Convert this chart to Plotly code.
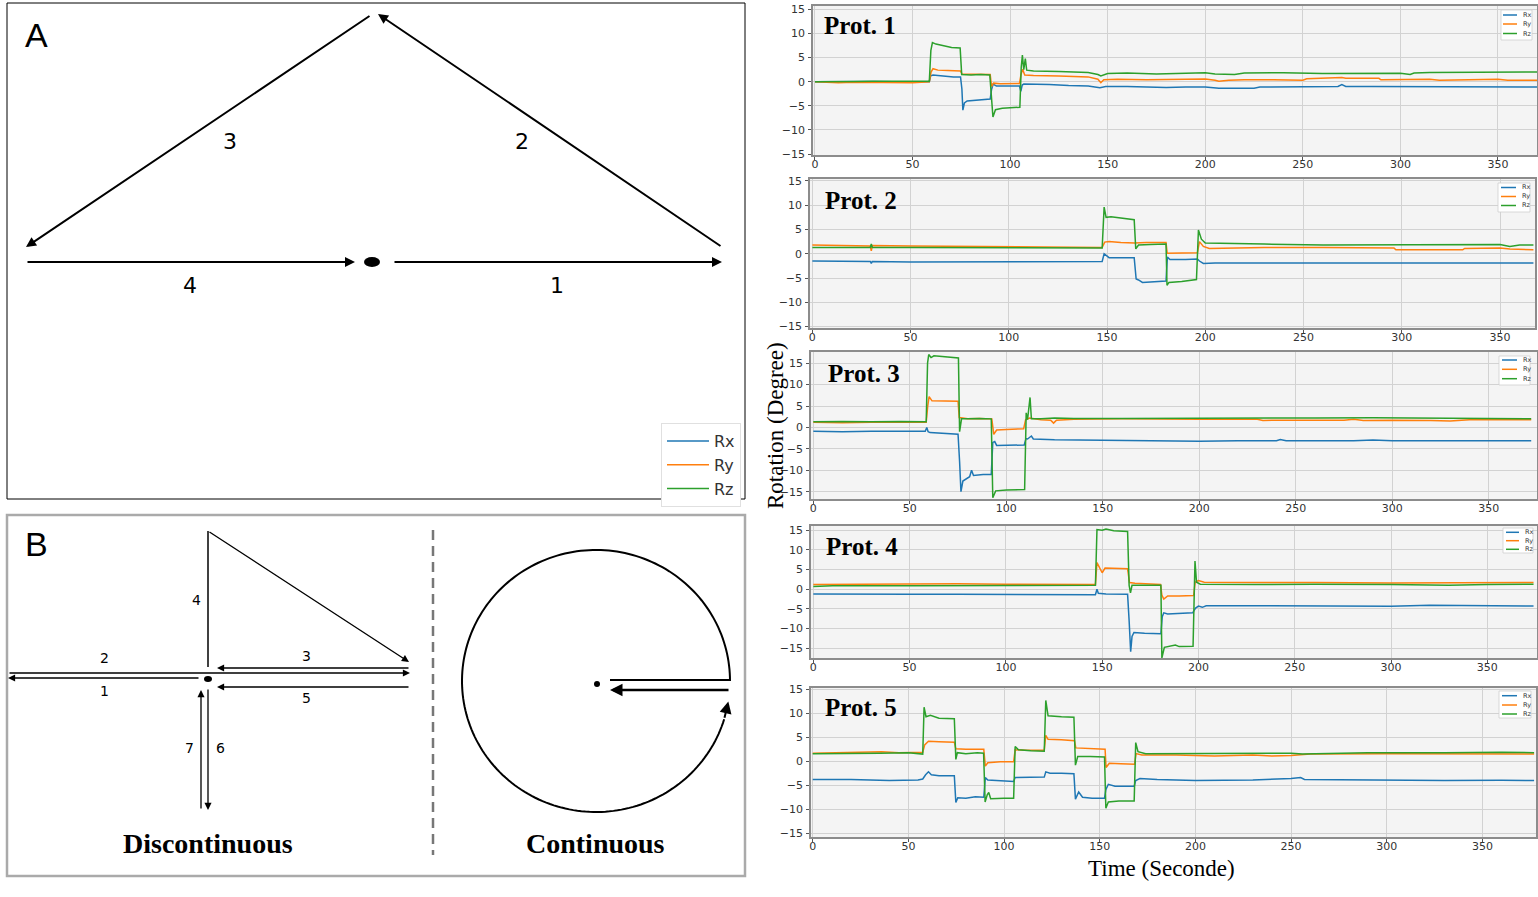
import numpy as np
import plotly.graph_objects as go

# ---------------- data ----------------
SERIES = ["Rx", "Ry", "Rz"]
COLORS = ["#1f77b4", "#ff7f0e", "#2ca02c"]
PROT_LABELS = ["Prot. 1", "Prot. 2", "Prot. 3", "Prot. 4", "Prot. 5"]
X_TICKS = [0, 50, 100, 150, 200, 250, 300, 350]
Y_TICKS = [-15, -10, -5, 0, 5, 10, 15]

# (time [s], rotation [deg]) pairs
P1_RX = [(0, 0), (10, 0.05), (20, -0.05), (30, 0.05), (40, 0), (50, 0), (58.6, 0), (59.3, 1.2), (60.5, 1.4),
         (63, 1.3), (67, 1.1), (71, 1.0), (74.6, 1.0), (75.3, -1.5), (75.8, -5.9), (76.6, -4.4), (78, -4.0),
         (82, -3.9), (86, -3.7), (89.8, -3.6), (90.5, -1.6), (91.3, -0.5), (93, -0.9), (98, -0.9), (104.8, -0.9),
         (105.5, -2.0), (106.2, -0.7), (107, -0.5), (112, -0.5), (120, -0.6), (130, -0.8), (140, -0.9),
         (146, -1.25), (149, -1.0), (160, -1.0), (170, -1.1), (180, -1.2), (190, -1.1), (200, -1.1),
         (207, -1.35), (215, -1.3), (225, -1.35), (228, -1.1), (235, -1.1), (250, -1.15), (260, -1.0),
         (268, -1.0), (270, -0.6), (272, -1.0), (285, -1.0), (300, -1.0), (310, -0.95), (320, -1.05),
         (340, -1.05), (360, -1.0), (370, -1.1)]
P1_RY = [(0, 0), (8, -0.1), (12, -0.2), (20, -0.1), (30, -0.15), (40, -0.1), (50, -0.2), (58.6, 0), (59.5, 2.0),
         (60.5, 2.7), (63, 2.4), (68, 2.3), (74.6, 2.2), (75.4, 1.6), (80, 1.6), (85, 1.5), (89.8, 1.5),
         (90.5, -1.0), (91.5, -0.3), (95, -0.4), (100, -0.4), (104.8, -0.35), (105.6, 1.5), (106.4, 2.6),
         (107.5, 1.4), (112, 1.3), (125, 1.2), (140, 1.0), (145, 0.5), (146.5, -0.2), (148, 0.4), (155, 0.5),
         (170, 0.4), (185, 0.5), (200, 0.55), (205, 0.3), (207, 0.1), (212, 0.3), (220, 0.4), (235, 0.4),
         (250, 0.3), (252, 0.6), (268, 0.7), (270, 0.85), (272, 0.7), (289, 0.7), (290, 0.4), (315, 0.5),
         (320, 0.3), (345, 0.35), (350, 0.5), (355, 0.3), (370, 0.3)]
P1_RZ = [(0, 0), (10, 0.1), (20, 0.05), (30, 0.1), (40, 0.05), (50, 0.1), (58.6, 0.1), (59.4, 6.5), (60.2, 8.1),
         (62, 7.8), (66, 7.4), (70, 7.1), (74.4, 7.0), (75.2, 1.5), (80, 1.4), (85, 1.5), (89.6, 1.4),
         (90.4, -3.0), (91.2, -7.3), (92.5, -5.8), (96, -5.5), (100, -5.4), (105, -5.3), (105.7, 3.0),
         (106.3, 5.5), (107, 2.5), (107.8, 4.8), (108.5, 2.4), (112, 2.2), (125, 2.1), (140, 1.9), (145, 1.5),
         (146.5, 1.2), (150, 1.7), (160, 1.8), (175, 1.6), (185, 1.7), (195, 1.9), (200, 1.85), (205, 1.6),
         (215, 1.5), (220, 1.8), (240, 1.85), (260, 1.7), (280, 1.8), (300, 1.75), (305, 1.5), (307, 1.8),
         (315, 1.9), (330, 1.9), (345, 1.95), (350, 2.0), (370, 2.0)]

P2_RX = [(0, -1.5), (15, -1.6), (29.5, -1.6), (30, -2.0), (30.5, -1.6), (50, -1.7), (75, -1.7), (100, -1.75),
         (125, -1.7), (145, -1.7), (147.5, -1.6), (148.5, 0.0), (149.5, -0.4), (151, -0.8), (157, -0.8),
         (163.8, -0.8), (164.8, -5.2), (166, -5.4), (168, -5.9), (175, -5.8), (180, -5.6), (180.7, -0.7),
         (182, -1.2), (190, -1.2), (196, -1.1), (197, -1.5), (199, -2.0), (205, -1.9), (220, -1.9), (250, -1.9),
         (280, -1.95), (300, -1.9), (330, -1.95), (355, -1.9), (360, -1.8), (367, -1.9)]
P2_RY = [(0, 1.8), (15, 1.7), (29.5, 1.6), (30, 0.6), (30.5, 1.7), (50, 1.6), (75, 1.5), (100, 1.5), (125, 1.4),
         (147.5, 1.3), (148.8, 2.4), (151, 2.5), (157, 2.3), (164, 2.2), (170, 2.3), (180, 2.3), (180.6, 0.1),
         (185, 0.1), (196, 0.2), (197, 2.5), (199, 1.5), (202, 1.1), (210, 1.2), (230, 1.3), (260, 1.3),
         (296, 1.2), (297, 0.8), (320, 0.85), (331, 0.8), (332, 1.1), (350, 1.2), (355, 1.0), (362, 0.8),
         (367, 0.8)]
P2_RZ = [(0, 1.3), (15, 1.3), (29.5, 1.3), (30, 2.0), (30.5, 1.3), (50, 1.3), (100, 1.3), (147.5, 1.2),
         (148.5, 9.6), (149.5, 7.5), (152, 7.6), (158, 7.3), (163.8, 7.0), (164.6, 1.0), (166, 1.8), (172, 1.9),
         (180, 2.0), (180.5, -6.5), (181.5, -5.9), (188, -5.7), (195.5, -5.3), (196.5, 4.9), (198, 3.0),
         (200, 2.2), (210, 2.1), (230, 2.0), (260, 1.8), (300, 1.8), (330, 1.8), (350, 1.9), (355, 1.5),
         (360, 1.8), (367, 1.8)]

P3_RX = [(0, -0.9), (15, -1.0), (30, -0.9), (45, -0.95), (58, -0.9), (58.8, 0.0), (59.5, -1.0), (60.5, -1.2),
         (66, -1.4), (75, -1.6), (75.8, -8.0), (76.5, -15.0), (77.5, -12.5), (79, -12.0), (81, -11.5),
         (82, -10.0), (83, -11.2), (88, -11.0), (92.2, -11.0), (93, -3.5), (94, -3.3), (95, -4.2), (102, -4.2),
         (109.3, -4.1), (110.2, -2.6), (111, -2.7), (113, -2.0), (114, -2.7), (125, -2.9), (150, -3.0),
         (175, -3.2), (200, -3.2), (220, -3.1), (240, -3.1), (242, -2.8), (245, -3.1), (280, -3.1),
         (290, -2.95), (300, -3.1), (330, -3.1), (360, -3.1), (372, -3.1)]
P3_RY = [(0, 1.2), (15, 1.1), (30, 1.2), (58.5, 1.2), (59.3, 5.0), (60, 7.2), (61.5, 6.2), (68, 6.1), (75, 6.1),
         (75.6, 2.3), (80, 2.0), (86, 2.1), (92.5, 2.0), (93.5, -1.6), (95, -0.6), (100, -0.5), (109, -0.3),
         (110, 1.8), (112, 2.2), (118, 1.8), (123, 1.7), (124.5, 1.0), (126, 1.7), (135, 1.9), (160, 2.0),
         (200, 1.9), (230, 1.9), (233, 1.6), (240, 1.7), (275, 1.7), (280, 1.9), (285, 1.6), (300, 1.7),
         (320, 1.6), (330, 1.5), (340, 1.8), (372, 1.8)]
P3_RZ = [(0, 1.3), (15, 1.4), (30, 1.3), (45, 1.4), (58.5, 1.3), (59.2, 15.0), (59.8, 17.0), (61, 16.3),
         (62.5, 16.7), (68, 16.5), (75.2, 16.2), (75.8, -1.0), (76.8, 2.0), (80, 2.0), (86, 2.1), (92.2, 2.0),
         (93.0, -16.4), (94.5, -14.8), (100, -14.6), (109.5, -14.5), (110.3, 3.4), (111, 1.8), (112.3, 7.0),
         (113, 2.0), (118, 2.0), (125, 2.2), (135, 2.1), (160, 2.1), (200, 2.2), (230, 2.2), (240, 2.3),
         (260, 2.2), (290, 2.25), (320, 2.1), (340, 2.0), (372, 2.0)]

P4_RX = [(0, -1.2), (25, -1.3), (50, -1.3), (75, -1.3), (100, -1.4), (125, -1.35), (146.5, -1.4), (147.3, 0.0),
         (148, -1.0), (152, -1.2), (163.2, -1.3), (164, -8.0), (164.8, -15.9), (165.5, -12.0), (166.5, -11.0),
         (172, -11.2), (180.5, -11.3), (181.2, -7.0), (182, -6.0), (184, -6.3), (190, -6.1), (197, -6.0),
         (198.5, -4.8), (200, -4.3), (202, -4.6), (204, -4.2), (230, -4.2), (260, -4.2), (300, -4.3),
         (320, -4.1), (340, -4.2), (374, -4.25)]
P4_RY = [(0, 1.2), (25, 1.3), (50, 1.3), (75, 1.4), (100, 1.3), (125, 1.3), (146.5, 1.2), (147.3, 6.8),
         (148.3, 5.8), (150, 4.2), (151.5, 5.4), (157, 5.3), (163.2, 5.2), (164.2, 1.7), (167, 1.5),
         (180.3, 1.2), (181, -1.5), (182, -2.5), (184, -1.7), (190, -1.7), (197.5, -1.6), (198.3, 1.8),
         (200, 2.2), (203, 1.8), (230, 1.8), (260, 1.7), (300, 1.6), (330, 1.7), (350, 1.6), (374, 1.7)]
P4_RZ = [(0, 0.7), (10, 0.9), (50, 0.9), (100, 1.0), (146.5, 1.0), (147.3, 15.2), (150, 15.0), (152, 15.3),
         (156, 14.9), (163.2, 14.7), (164, 1.0), (164.7, -0.9), (165.5, 1.0), (172, 1.0), (180.5, 1.0),
         (181, -17.5), (182.3, -14.8), (188, -14.2), (190, -14.6), (197.2, -14.5), (198.2, 7.2), (199, 1.8),
         (201, 1.3), (230, 1.2), (260, 1.3), (300, 1.2), (330, 1.0), (350, 1.2), (374, 1.3)]

P5_RX = [(0, -3.8), (20, -3.8), (40, -4.0), (55, -3.9), (57.5, -3.7), (59, -2.8), (60.5, -2.2), (62, -2.8),
         (66, -3.0), (74, -3.0), (74.8, -8.6), (75.8, -7.6), (80, -7.7), (85, -7.4), (89.4, -7.5), (90.2, -3.4),
         (91.5, -3.9), (97, -4.0), (105, -4.2), (105.8, -3.4), (112, -3.4), (121, -3.3), (121.8, -2.2),
         (124, -2.5), (130, -2.5), (136.5, -2.6), (137.3, -7.9), (139, -6.4), (141, -7.5), (146, -7.7),
         (152.5, -7.7), (153.2, -5.9), (154.5, -4.8), (158, -5.2), (168, -5.2), (168.8, -4.0), (171, -3.6),
         (180, -3.8), (200, -4.0), (230, -3.9), (250, -3.6), (255, -3.4), (257, -3.8), (280, -3.9),
         (300, -3.9), (330, -4.0), (360, -3.95), (377, -4.0)]
P5_RY = [(0, 1.7), (20, 1.8), (30, 1.9), (36, 2.0), (45, 1.8), (57.5, 1.9), (58.5, 3.4), (60.5, 4.2), (66, 4.1),
         (74, 4.0), (74.8, 2.6), (80, 2.5), (89.4, 2.5), (90.2, -1.0), (91.5, -0.3), (98, -0.1), (105, -0.1),
         (105.8, 2.4), (112, 2.3), (121, 2.3), (121.8, 5.4), (123, 4.6), (130, 4.5), (136.8, 4.3),
         (137.5, 2.8), (145, 2.6), (152.8, 2.5), (153.3, -1.3), (155, -0.4), (161, -0.5), (168.2, -0.6),
         (169, 1.6), (172, 1.3), (190, 1.3), (210, 1.1), (230, 1.3), (240, 1.1), (250, 1.2), (260, 1.5),
         (300, 1.6), (340, 1.6), (377, 1.5)]
P5_RZ = [(0, 1.6), (20, 1.6), (35, 1.7), (50, 1.8), (57.5, 1.5), (58.2, 11.3), (59.2, 9.3), (61.5, 9.6),
         (66, 9.0), (74, 8.9), (74.8, 0.4), (75.6, 1.8), (80, 1.6), (86, 1.8), (89.3, 1.7), (90.1, -8.5),
         (91.2, -7.0), (92, -6.5), (93, -7.8), (100, -7.7), (105, -7.7), (105.8, 3.1), (107.5, 2.4),
         (114, 2.2), (121, 2.1), (121.8, 12.7), (123, 9.5), (130, 9.3), (136.5, 9.2), (137.3, -0.8),
         (138.5, 1.0), (145, 1.0), (152.5, 0.9), (153.2, -9.8), (154.5, -8.5), (160, -8.3), (168, -8.3),
         (168.8, 3.9), (170, 2.0), (174, 1.6), (200, 1.6), (240, 1.6), (250, 1.7), (256, 1.5), (265, 1.6),
         (290, 1.8), (330, 1.8), (360, 1.9), (377, 1.8)]

PROTOCOLS = [(P1_RX, P1_RY, P1_RZ), (P2_RX, P2_RY, P2_RZ), (P3_RX, P3_RY, P3_RZ),
             (P4_RX, P4_RY, P4_RZ), (P5_RX, P5_RY, P5_RZ)]

# ---------------- layout geometry (pixels) ----------------
W, H = 1538, 897


def px(x):
    return x / W


def py(y):
    return 1 - y / H


FRAMES = [(813, 1537, 6, 155), (810, 1535, 179, 328), (811, 1537, 352, 499),
          (811, 1537, 526, 658), (811, 1536, 688, 837)]
XRANGES = [(-1.0, 370), (-1.2, 367.8), (-1.2, 375), (-1.2, 375.8), (-0.9, 378)]
YRANGES = [(-15.2, 15.7), (-15.3, 15.4), (-16.7, 17.6), (-17.5, 16.1), (-15.8, 15.3)]
LABEL_POS = [(860, 25), (861, 201), (864, 373), (862, 546), (861, 707)]
MINI_LEG = [  # box x0,x1,y0,y1, entry ys, line x0,x1
    (1501, 1532, 10, 40, (15, 24, 33.5), 1503, 1517),
    (1498, 1530, 183, 212, (187.5, 196.5, 205.5), 1501, 1516),
    (1499, 1530, 356, 385, (360, 369.3, 378.7), 1502, 1517),
    (1503, 1533, 528, 553, (532.3, 540.7, 549.3), 1506, 1519),
    (1499, 1531, 691, 718, (695.7, 705, 714), 1502, 1517),
]

SERIF = "Liberation Serif"
SANS = "DejaVu Sans"

fig = go.Figure()
layout = dict(template="none", width=W, height=H, autosize=False,
              margin=dict(l=0, r=0, t=0, b=0, pad=0, autoexpand=False), paper_bgcolor="white",
              plot_bgcolor="#f4f4f4", showlegend=True, font=dict(family=SANS, color="#333"))

for i, (series, frame) in enumerate(zip(PROTOCOLS, FRAMES)):
    k = i + 1
    xa, ya = f"x{k}", f"y{k}"
    for name, color, pts in zip(SERIES, COLORS, series):
        t = [p[0] for p in pts]
        v = [p[1] for p in pts]
        fig.add_trace(go.Scatter(x=t, y=v, mode="lines", name=name, legendgroup=name,
                                 showlegend=(k == 1), line=dict(color=color, width=1.5),
                                 xaxis=xa, yaxis=ya, hoverinfo="x+y+name"))
    l, r, t0, b0 = frame
    axis_common = dict(showgrid=True, gridcolor="#d2d2d2", gridwidth=1, zeroline=False, showline=True,
                       mirror=True, linecolor="#8c8c8c", linewidth=1.5, ticks="outside", ticklen=3,
                       tickcolor="#555", automargin=False,
                       tickfont=dict(family=SANS, size=11, color="#333"))
    layout[f"xaxis{k}"] = dict(domain=[px(l), px(r)], range=list(XRANGES[i]), anchor=ya,
                               tickvals=X_TICKS, ticklabelstandoff=-5, **axis_common)
    layout[f"yaxis{k}"] = dict(domain=[py(b0), py(t0)], range=list(YRANGES[i]), anchor=xa,
                               tickvals=Y_TICKS, ticklabelstandoff=1, **axis_common)

layout["legend"] = dict(x=px(661), y=py(423), xanchor="left", yanchor="top", bgcolor="white",
                        bordercolor="#e0e0e0", borderwidth=1, font=dict(family=SANS, size=16, color="#333"),
                        itemwidth=42, tracegroupgap=0)
fig.update_layout(**layout)

shapes = []
annotations = []


def text(x, y, s, size, family=SANS, color="black", **kw):
    annotations.append(dict(x=px(x), y=py(y), xref="paper", yref="paper", text=s, showarrow=False,
                            font=dict(family=family, size=size, color=color), xanchor="center",
                            yanchor="middle", **kw))


def line(x0, y0, x1, y1, width=1.5, color="black", dash=None):
    d = dict(type="line", xref="paper", yref="paper", x0=px(x0), y0=py(y0), x1=px(x1), y1=py(y1),
             line=dict(color=color, width=width))
    if dash:
        d["line"]["dash"] = dash
    shapes.append(d)


def arrow(x0, y0, x1, y1, width=2, size=1.0, head=2):
    annotations.append(dict(x=px(x1), y=py(y1), xref="paper", yref="paper", ax=x0 - x1, ay=y0 - y1,
                            axref="pixel", ayref="pixel", text="", showarrow=True, arrowhead=head,
                            arrowsize=size, arrowwidth=width, arrowcolor="black", standoff=0,
                            startstandoff=0))


def dot(cx, cy, rx, ry):
    shapes.append(dict(type="circle", xref="paper", yref="paper", x0=px(cx - rx), x1=px(cx + rx),
                       y0=py(cy + ry), y1=py(cy - ry), fillcolor="black", line=dict(color="black", width=0)))


# subplot texts
for i, (lx, ly) in enumerate(LABEL_POS):
    text(lx, ly, f"<b>{PROT_LABELS[i]}</b>", 25, SERIF)

for (bx0, bx1, by0, by1, ys, lx0, lx1) in MINI_LEG:
    shapes.append(dict(type="rect", xref="paper", yref="paper", x0=px(bx0), x1=px(bx1), y0=py(by1),
                       y1=py(by0), fillcolor="white", line=dict(color="#cfcfcf", width=0.8)))
    for name, color, yy in zip(SERIES, COLORS, ys):
        line(lx0, yy, lx1, yy, width=1.5, color=color)
        annotations.append(dict(x=px(lx1 + 4), y=py(yy), xref="paper", yref="paper", text=name,
                                showarrow=False, font=dict(family=SANS, size=6.5, color="#333"),
                                xanchor="left", yanchor="middle"))

text(775, 426, "Rotation (Degree)", 23, SERIF, textangle=-90)
text(1161, 868, "Time (Seconde)", 23, SERIF)

# ---------------- Panel A ----------------
shapes.append(dict(type="rect", xref="paper", yref="paper", x0=px(7), x1=px(745), y0=py(499), y1=py(3),
                   line=dict(color="black", width=1), layer="below"))
text(36, 35, "A", 34, "Liberation Sans")
arrow(393, 262, 722, 262, width=2, size=1.0)
arrow(722, 247, 378, 14, width=2, size=1.0)
arrow(371, 15, 26, 247, width=2, size=1.0)
arrow(26, 262, 355, 262, width=2, size=1.0)
dot(372, 262, 8, 5)
text(557, 285, "1", 22)
text(522, 141, "2", 22)
text(230, 141, "3", 22)
text(190, 285, "4", 22)

# ---------------- Panel B ----------------
shapes.append(dict(type="rect", xref="paper", yref="paper", x0=px(7), x1=px(745), y0=py(876), y1=py(515),
                   line=dict(color="#aaaaaa", width=2.5), layer="below"))
text(36, 544, "B", 34, "Liberation Sans")
line(208, 531, 208, 667, width=1.5)
arrow(208, 531, 409, 662, width=1.3, size=1.1)
arrow(410, 668, 217, 668, width=1.3, size=1.1)
arrow(8, 673, 410, 673, width=1.3, size=1.1)
arrow(200, 678, 8, 678, width=1.3, size=1.1)
arrow(410, 687, 217, 687, width=1.3, size=1.1)
arrow(208, 688, 208, 810, width=1.3, size=1.1)
arrow(201, 810, 201, 690, width=1.3, size=1.1)
dot(208, 679, 4, 3)
text(196, 600, "4", 14)
text(306, 656, "3", 14)
text(104, 658, "2", 14)
text(104, 691, "1", 14)
text(306, 698, "5", 14)
text(189, 748, "7", 14)
text(220, 748, "6", 14)
text(208, 843, "<b>Discontinuous</b>", 28, SERIF)
line(433, 530, 433, 855, width=2.5, color="#777777", dash="10px,6px")

# Continuous
CX, CY, RX, RY = 596, 681, 134, 131
theta = np.radians(np.linspace(0, 343, 200))
ax_pts = CX + RX * np.cos(theta)
ay_pts = CY - RY * np.sin(theta)
path = "M " + " L ".join(f"{px(a):.5f},{py(b):.5f}" for a, b in zip(ax_pts, ay_pts))
shapes.append(dict(type="path", xref="paper", yref="paper", path=path, line=dict(color="black", width=2)))
t0, t1 = np.radians(343), np.radians(351)
arrow(CX + RX * np.cos(t0), CY - RY * np.sin(t0), CX + RX * np.cos(t1), CY - RY * np.sin(t1), width=2, size=1.2)
line(610, 680, 730, 680, width=2)
arrow(730, 690, 610, 690, width=2.5, size=1.0)
dot(597, 684, 3, 3)
text(595, 843, "<b>Continuous</b>", 28, SERIF)

fig.update_layout(shapes=shapes, annotations=annotations)

fig.write_html("out.html", config={"displayModeBar": False},
               post_script="document.body.style.margin='0';document.body.style.overflow='hidden';")
